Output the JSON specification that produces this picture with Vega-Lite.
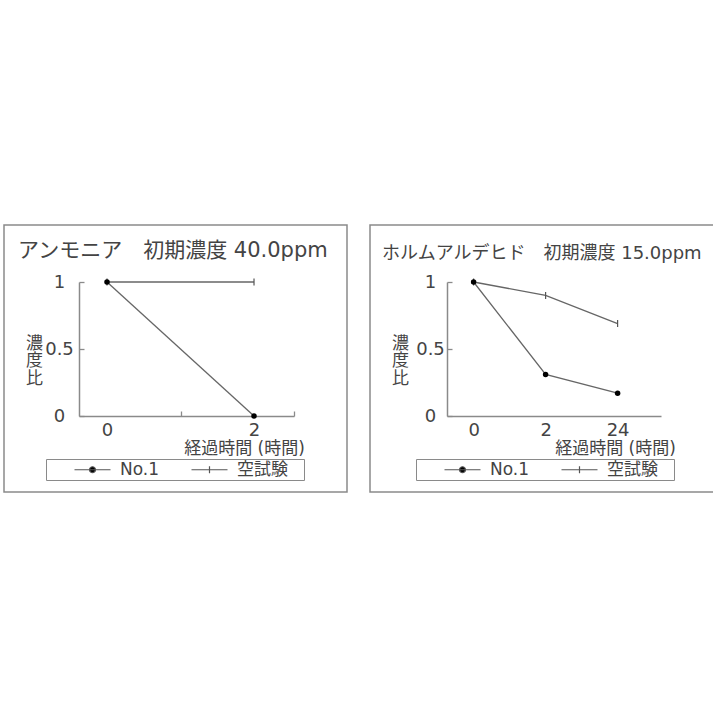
{
  "$schema": "https://vega.github.io/schema/vega-lite/v6.json",
  "background": "white",
  "padding": {"left": 3, "top": 224, "right": 0, "bottom": 0},
  "spacing": 21,
  "datasets": {
    "ammonia": [
      {"time": 0, "series": "No.1", "ratio": 1},
      {"time": 2, "series": "No.1", "ratio": 0},
      {"time": 0, "series": "空試験", "ratio": 1},
      {"time": 2, "series": "空試験", "ratio": 1}
    ],
    "formaldehyde": [
      {"time": 0, "series": "No.1", "ratio": 1},
      {"time": 2, "series": "No.1", "ratio": 0.31},
      {"time": 24, "series": "No.1", "ratio": 0.17},
      {"time": 0, "series": "空試験", "ratio": 1},
      {"time": 2, "series": "空試験", "ratio": 0.9},
      {"time": 24, "series": "空試験", "ratio": 0.69}
    ]
  },
  "config": {
    "view": {"stroke": "#8a8a8a", "strokeWidth": 1.5},
    "font": "DejaVu Sans, Noto Sans CJK JP",
    "axis": {
      "domainColor": "#8a8a8a", "domainWidth": 1.5,
      "tickColor": "#8a8a8a", "tickWidth": 1.3, "tickSize": -5,
      "labelColor": "#444", "titleColor": "#444",
      "labelFont": "DejaVu Sans, Noto Sans CJK JP", "titleFont": "DejaVu Sans, Noto Sans CJK JP",
      "labelFontSize": 18, "titleFontSize": 17, "titleFontWeight": "normal",
      "grid": false, "labelFlush": false, "labelOverlap": false, "labelBound": false
    },
    "legend": {
      "orient": "none", "direction": "horizontal",
      "strokeColor": "#8a8a8a", "padding": 2,
      "symbolSize": 36, "symbolStrokeWidth": 1.2, "symbolOffset": 36,
      "labelOffset": 19, "columnPadding": 5,
      "labelFontSize": 17, "labelColor": "#444", "labelFont": "DejaVu Sans, Noto Sans CJK JP",
      "titleOrient": "right", "titlePadding": 14, "titleFontSize": 10
    },
    "title": {"color": "#444", "fontWeight": "normal", "font": "DejaVu Sans, Noto Sans CJK JP"}
  },
  "resolve": {"scale": {"shape": "independent"}, "legend": {"shape": "independent"}},
  "hconcat": [
    {
      "width": 343, "height": 267,
      "data": {"name": "ammonia"},
      "title": {"text": "アンモニア　初期濃度 40.0ppm", "fontSize": 21, "anchor": "start", "frame": "group", "offset": -47, "dx": 14, "baseline": "middle"},
      "encoding": {
        "x": {
          "field": "time", "type": "quantitative",
          "scale": {"domain": [-0.381, 2.544], "range": [75, 290], "nice": false, "zero": false},
          "axis": {
            "values": [0, 1, 2, 2.544],
            "labelExpr": "datum.value == 0 || datum.value == 2 ? '' + datum.value : ''",
            "tickOpacity": {"condition": {"test": "datum.value == 1 || datum.value > 2.5", "value": 1}, "value": 0},
            "offset": -76, "labelPadding": 10, "labelBaseline": "top", "labelAlign": "center",
            "title": "経過時間 (時間)", "titleX": 240, "titleY": 32, "titleAlign": "center", "titleBaseline": "middle"
          }
        },
        "y": {
          "field": "ratio", "type": "quantitative",
          "scale": {"domain": [0, 1], "range": [191, 57], "nice": false, "zero": false},
          "axis": {
            "values": [0, 0.5, 1], "labelExpr": "'' + datum.value",
            "offset": -75, "labelAlign": "center", "labelBaseline": "middle", "labelPadding": 25,
            "title": ["濃", "度", "比"], "titleAngle": 0, "titleX": -45, "titleY": 110,
            "titleAlign": "center", "titleBaseline": "top", "titleLineHeight": 17.5
          }
        }
      },
      "layer": [
        {"mark": {"type": "line", "color": "#666", "strokeWidth": 1.3}, "encoding": {"detail": {"field": "series"}}},
        {"transform": [{"filter": "datum.series == '空試験'"}], "mark": {"type": "point", "shape": "M0,-1V1", "size": 49, "stroke": "#555", "strokeWidth": 1.2, "opacity": 1}},
        {"transform": [{"filter": "datum.series == 'No.1'"}], "mark": {"type": "point", "shape": "circle", "filled": true, "color": "#000", "size": 30, "opacity": 1}},
        {
          "transform": [{"filter": "false"}],
          "mark": {"type": "point", "filled": true, "fill": "#000", "stroke": "#555", "strokeWidth": 1.2, "opacity": 1},
          "encoding": {
            "shape": {
              "field": "series", "type": "nominal",
              "scale": {"domain": ["No.1", "空試験"], "range": ["M-6,0H6M1,0A1,1,0,1,1,-1,0A1,1,0,1,1,1,0Z", "M-6,0H6M0,-1.2V1.2"]},
              "legend": {"title": "　", "legendX": 42, "legendY": 234}
            }
          }
        }
      ]
    },
    {
      "width": 344, "height": 267,
      "data": {"name": "formaldehyde"},
      "title": {"text": "ホルムアルデヒド　初期濃度 15.0ppm", "fontSize": 18, "anchor": "start", "frame": "group", "offset": -47, "dx": 12, "baseline": "middle"},
      "encoding": {
        "x": {
          "field": "time", "type": "ordinal",
          "scale": {"type": "point", "domain": [0, 2, 24], "range": [77, 291], "padding": 0.486, "align": 0.38},
          "axis": {
            "labelAngle": 0, "tickOpacity": 0,
            "offset": -76, "labelPadding": 10, "labelBaseline": "top", "labelAlign": "center",
            "title": "経過時間 (時間)", "titleX": 245, "titleY": 32, "titleAlign": "center", "titleBaseline": "middle"
          }
        },
        "y": {
          "field": "ratio", "type": "quantitative",
          "scale": {"domain": [0, 1], "range": [191, 57], "nice": false, "zero": false},
          "axis": {
            "values": [0, 0.5, 1], "labelExpr": "'' + datum.value",
            "offset": -77, "labelAlign": "center", "labelBaseline": "middle", "labelPadding": 22,
            "title": ["濃", "度", "比"], "titleAngle": 0, "titleX": -47, "titleY": 110,
            "titleAlign": "center", "titleBaseline": "top", "titleLineHeight": 17.5
          }
        }
      },
      "layer": [
        {"mark": {"type": "line", "color": "#666", "strokeWidth": 1.3}, "encoding": {"detail": {"field": "series"}}},
        {"transform": [{"filter": "datum.series == '空試験'"}], "mark": {"type": "point", "shape": "M0,-1V1", "size": 49, "stroke": "#555", "strokeWidth": 1.2, "opacity": 1}},
        {"transform": [{"filter": "datum.series == 'No.1'"}], "mark": {"type": "point", "shape": "circle", "filled": true, "color": "#000", "size": 30, "opacity": 1}},
        {
          "transform": [{"filter": "false"}],
          "mark": {"type": "point", "filled": true, "fill": "#000", "stroke": "#555", "strokeWidth": 1.2, "opacity": 1},
          "encoding": {
            "shape": {
              "field": "series", "type": "nominal",
              "scale": {"domain": ["No.1", "空試験"], "range": ["M-6,0H6M1,0A1,1,0,1,1,-1,0A1,1,0,1,1,1,0Z", "M-6,0H6M0,-1.2V1.2"]},
              "legend": {"title": "　", "legendX": 46, "legendY": 234}
            }
          }
        }
      ]
    }
  ]
}
